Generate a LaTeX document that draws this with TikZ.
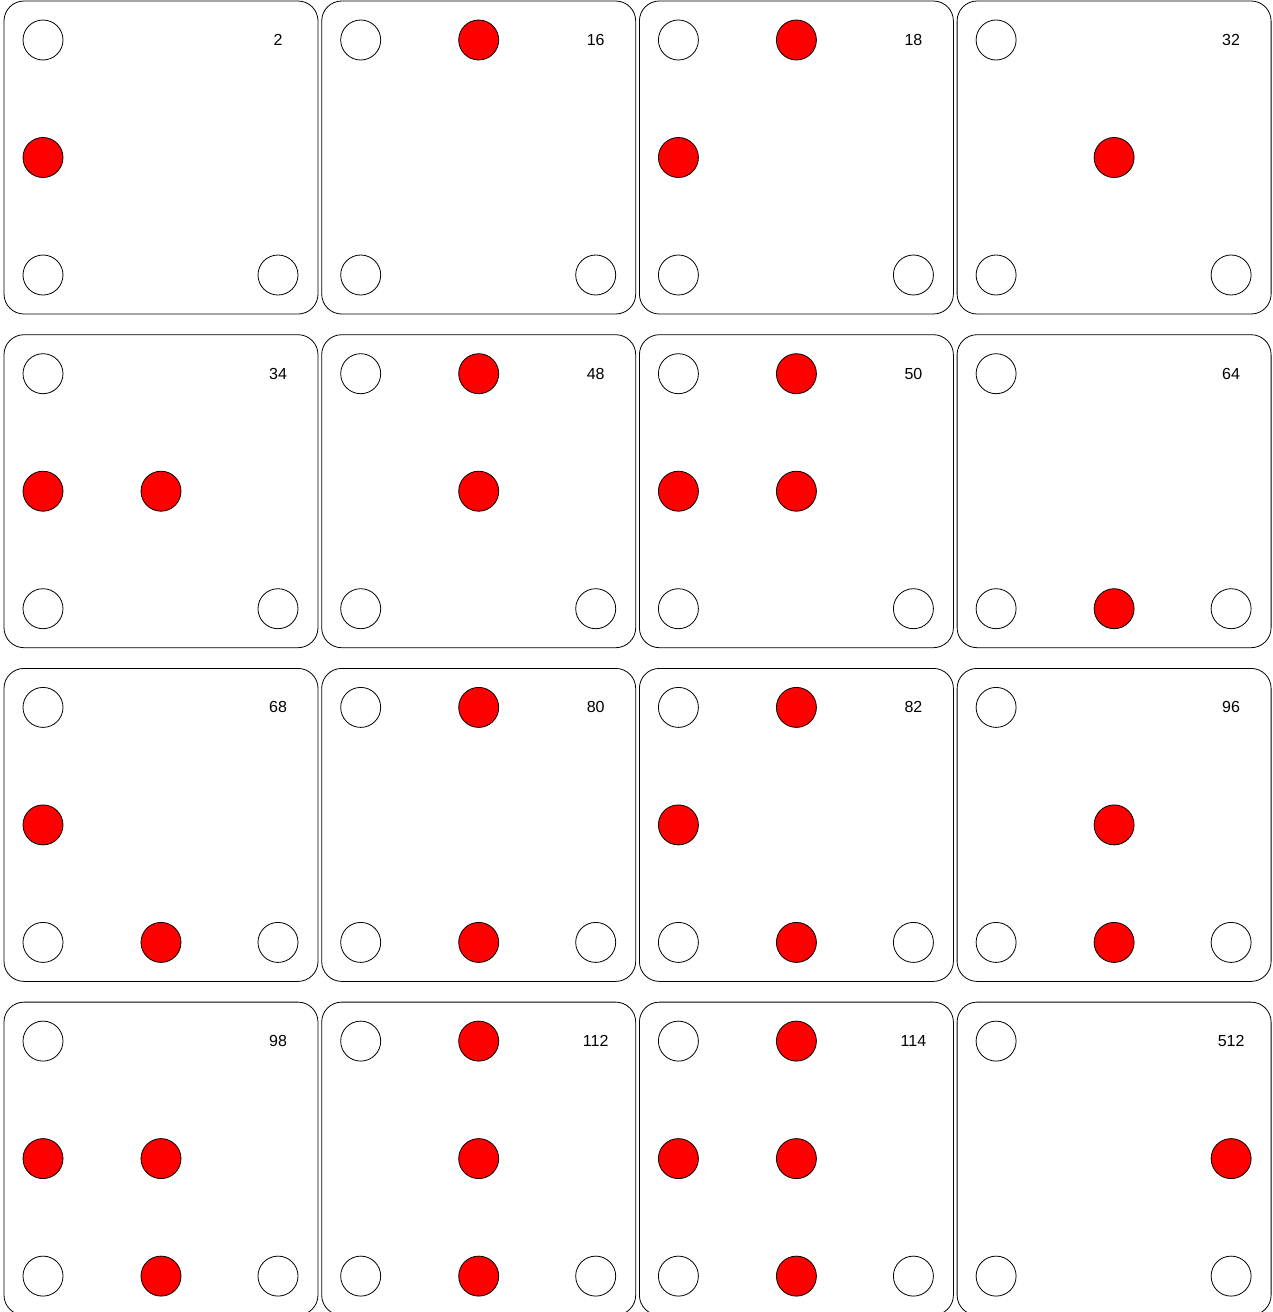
\documentclass[tikz,border=0pt]{standalone}
\usepackage{fontspec}
\setmainfont{Liberation Sans}
\begin{document}
\begin{tikzpicture}[x=1pt,y=-1pt,
  card/.style={draw, rounded corners=20pt, line width=0.8pt, minimum width=314pt, minimum height=313pt, inner sep=0pt, outer sep=0pt, anchor=north west},
  hole/.style={circle, draw, minimum size=40pt, inner sep=0pt, line width=0.8pt, fill=white},
  on/.style={hole, fill=red},
  lab/.style={font=\fontsize{16}{19}\selectfont, inner sep=0pt}]
\useasboundingbox (0,0) rectangle (1272,1312);
\foreach \lab/\i/\j/\a/\b/\c/\d/\e in {
  2/0/0/1/0/0/0/0, 16/1/0/0/1/0/0/0, 18/2/0/1/1/0/0/0, 32/3/0/0/0/1/0/0,
  34/0/1/1/0/1/0/0, 48/1/1/0/1/1/0/0, 50/2/1/1/1/1/0/0, 64/3/1/0/0/0/1/0,
  68/0/2/1/0/0/1/0, 80/1/2/0/1/0/1/0, 82/2/2/1/1/0/1/0, 96/3/2/0/0/1/1/0,
  98/0/3/1/0/1/1/0, 112/1/3/0/1/1/1/0, 114/2/3/1/1/1/1/0, 512/3/3/0/0/0/0/1}{
  \pgfmathsetmacro\X{4+317.7*\i}
  \pgfmathsetmacro\Y{1+333.7*\j}
  \node[card] (card\lab) at (\X,\Y) {};
  \node[hole] (h\lab-tl) at (\X+39,\Y+39) {};
  \node[hole] (h\lab-bl) at (\X+39,\Y+274) {};
  \node[hole] (h\lab-br) at (\X+274,\Y+274) {};
  \node[lab] (n\lab) at (\X+274,\Y+39) {\lab};
  \ifnum\a=1 \node[on] (h\lab-ml) at (\X+39,\Y+156.5) {};\fi
  \ifnum\b=1 \node[on] (h\lab-tm) at (\X+157,\Y+39) {};\fi
  \ifnum\c=1 \node[on] (h\lab-mm) at (\X+157,\Y+156.5) {};\fi
  \ifnum\d=1 \node[on] (h\lab-bm) at (\X+157,\Y+274) {};\fi
  \ifnum\e=1 \node[on] (h\lab-mr) at (\X+274,\Y+156.5) {};\fi
}
\end{tikzpicture}
\end{document}
